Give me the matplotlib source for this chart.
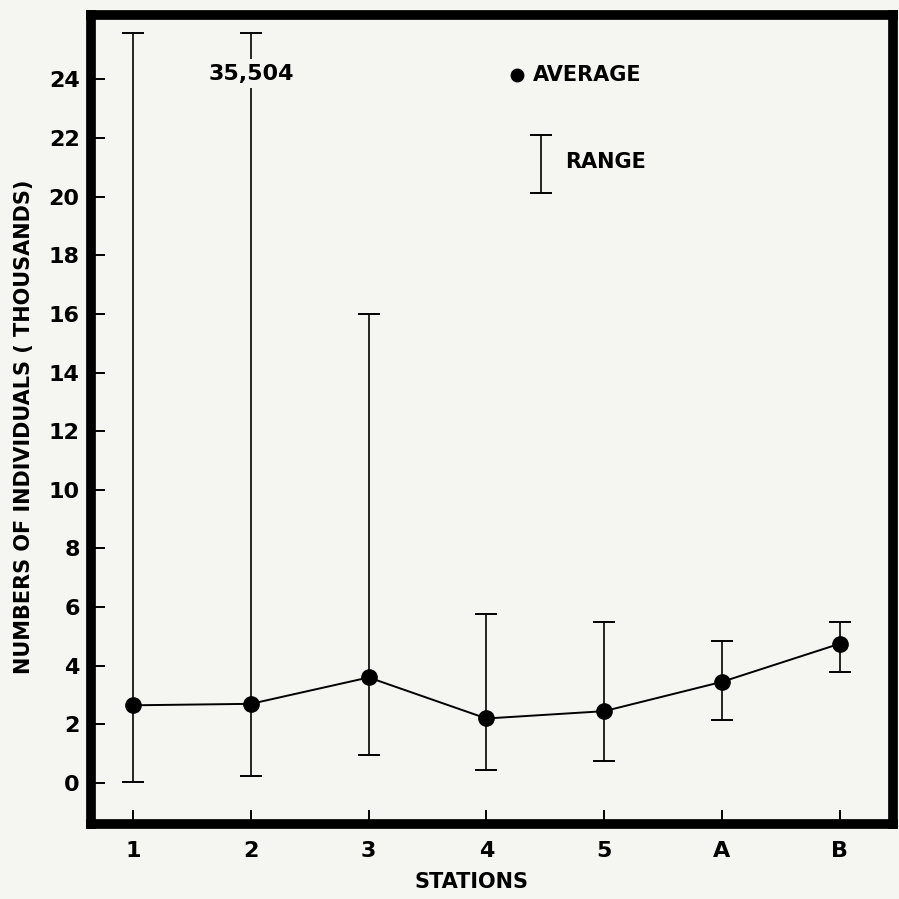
import numpy as np
from matplotlib import pyplot as plt

# data (thousands of individuals)
stations = ['1', '2', '3', '4', '5', 'A', 'B']
average = [2.65, 2.7, 3.6, 2.2, 2.45, 3.45, 4.75]
range_low = [0.05, 0.25, 0.95, 0.45, 0.75, 2.15, 3.8]
range_high = [25.6, 35.504, 16.0, 5.75, 5.5, 4.85, 5.5]
y_ticks = list(range(0, 25, 2))

top_cap = 25.6  # bars beyond the chart are stopped here
bg = '#f5f5f2'

plt.rcParams['font.family'] = 'DejaVu Sans'
plt.rcParams['font.weight'] = 'bold'

fig = plt.figure(figsize=(8.99, 8.99), dpi=100, facecolor=bg)
ax = fig.add_axes([0.101, 0.0834, 0.892, 0.9])
ax.set_facecolor(bg)

x = np.arange(len(stations))
avg = np.array(average)
hi = np.minimum(np.array(range_high), top_cap)
lo = np.array(range_low)

ax.errorbar(x, avg, yerr=[avg - lo, hi - avg], fmt='none', ecolor='black',
            elinewidth=1.2, capsize=8, capthick=1.4, zorder=2)
ax.plot(x, avg, color='black', lw=1.4, marker='o', markersize=11, zorder=3)

# label for the bar that runs off the chart
ax.text(x[1], 24.2, '35,504', ha='center', va='center', fontsize=16,
        fontweight='bold', zorder=4,
        bbox=dict(facecolor=bg, edgecolor='none', pad=3))

# hand drawn key
ax.plot([0.532], [0.926], 'o', color='black', markersize=9, transform=ax.transAxes)
ax.text(0.551, 0.926, 'AVERAGE', transform=ax.transAxes, va='center', fontsize=15)
ax.errorbar([0.561], [0.816], yerr=[[0.036], [0.036]], fmt='none', ecolor='black',
            elinewidth=1.2, capsize=8, capthick=1.4, transform=ax.transAxes)
ax.text(0.591, 0.818, 'RANGE', transform=ax.transAxes, va='center', fontsize=15)

ax.set_xlim(-0.36, 6.45)
ax.set_ylim(-1.4, 26.2)
ax.set_xticks(x)
ax.set_xticklabels(stations)
ax.set_yticks(y_ticks)
ax.tick_params(axis='both', direction='in', length=10, width=1.4, labelsize=16)
ax.tick_params(axis='y', pad=8)
ax.tick_params(axis='x', pad=12)
for s in ax.spines.values():
    s.set_linewidth(7)

fig.text(0.525, 0.019, 'STATIONS', ha='center', va='center', fontsize=15, fontweight='bold')
fig.text(0.027, 0.525, 'NUMBERS OF INDIVIDUALS ( THOUSANDS)', rotation=90,
         ha='center', va='center', fontsize=15, fontweight='bold')

plt.savefig('out.png', dpi=100, facecolor=bg)
